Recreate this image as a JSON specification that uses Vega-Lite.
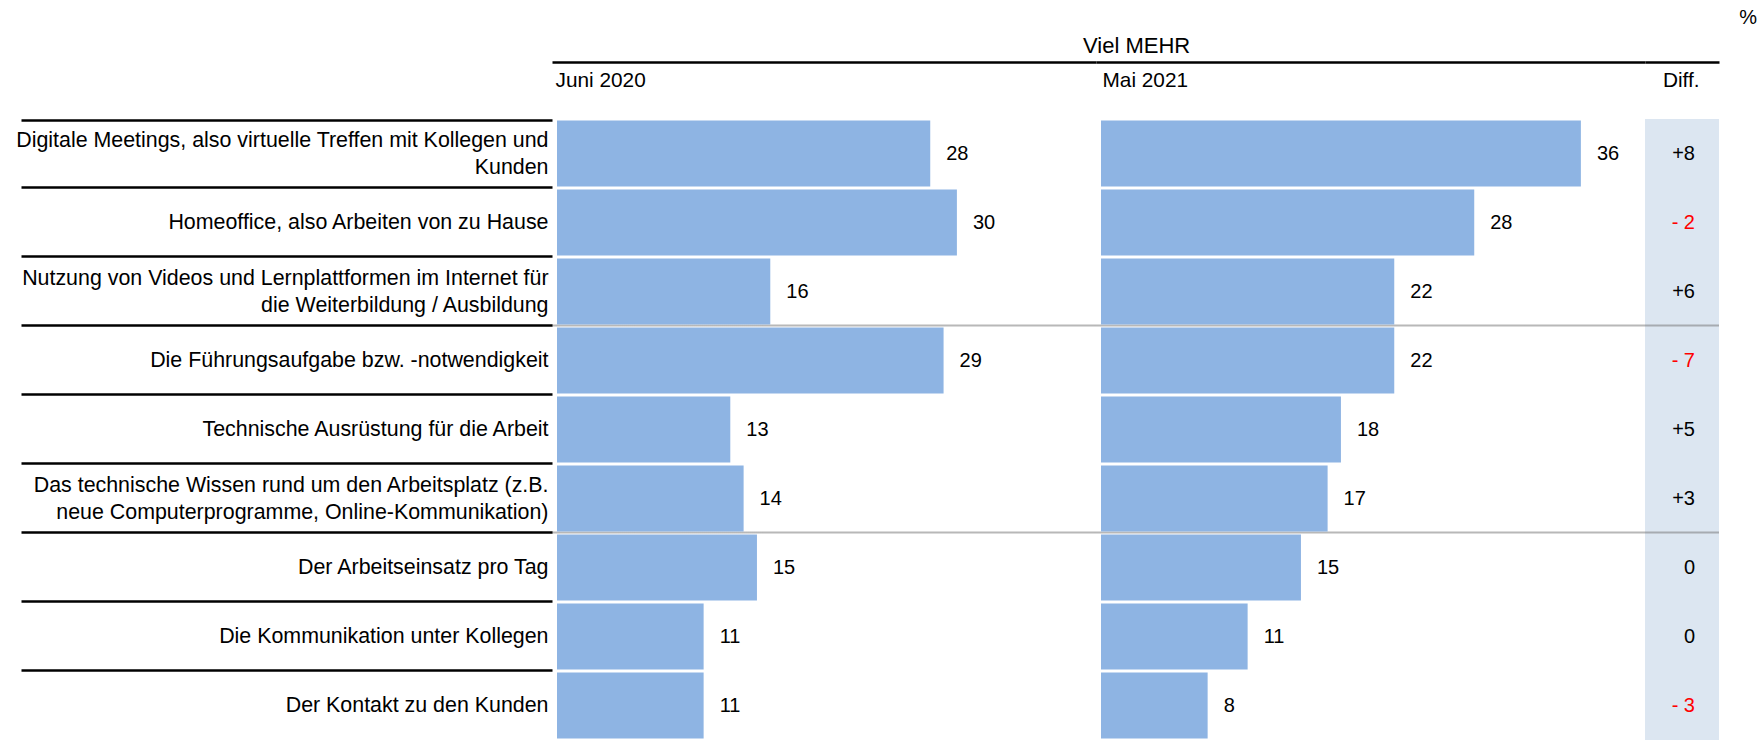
{
  "$schema": "https://vega.github.io/schema/vega-lite/v6.json",
  "padding": {"left": 15, "top": 8, "right": 0, "bottom": 0},
  "config": {
    "view": {"stroke": null},
    "font": "Liberation Sans",
    "title": {"fontWeight": "normal", "color": "black"},
    "axis": {"titleFontWeight": "normal", "titleColor": "black", "titleFontSize": 20.8, "labelColor": "black"}
  },
  "data": {
    "values": [
      {"label": "Digitale Meetings, also virtuelle Treffen mit Kollegen und|Kunden", "juni": 28, "mai": 36, "diff": 8, "diffLabel": "+8"},
      {"label": "Homeoffice, also Arbeiten von zu Hause", "juni": 30, "mai": 28, "diff": -2, "diffLabel": "- 2"},
      {"label": "Nutzung von Videos und Lernplattformen im Internet für|die Weiterbildung / Ausbildung", "juni": 16, "mai": 22, "diff": 6, "diffLabel": "+6"},
      {"label": "Die Führungsaufgabe bzw. -notwendigkeit", "juni": 29, "mai": 22, "diff": -7, "diffLabel": "- 7"},
      {"label": "Technische Ausrüstung für die Arbeit", "juni": 13, "mai": 18, "diff": 5, "diffLabel": "+5"},
      {"label": "Das technische Wissen rund um den Arbeitsplatz (z.B.|neue Computerprogramme, Online-Kommunikation)", "juni": 14, "mai": 17, "diff": 3, "diffLabel": "+3"},
      {"label": "Der Arbeitseinsatz pro Tag", "juni": 15, "mai": 15, "diff": 0, "diffLabel": "0"},
      {"label": "Die Kommunikation unter Kollegen", "juni": 11, "mai": 11, "diff": 0, "diffLabel": "0"},
      {"label": "Der Kontakt zu den Kunden", "juni": 11, "mai": 8, "diff": -3, "diffLabel": "- 3"}
    ]
  },
  "spacing": 0,
  "bounds": "flush",
  "resolve": {"scale": {"x": "independent", "y": "shared"}, "axis": {"x": "independent", "y": "independent"}},
  "hconcat": [
    {
      "width": 544,
      "height": 621,
      "layer": [
        {
          "mark": {"type": "bar", "color": "#8EB4E3"},
          "encoding": {
            "y": {
              "field": "label", "type": "nominal", "sort": null,
              "scale": {"paddingInner": 0.04, "paddingOuter": 0.02},
              "axis": {
                "title": null, "domain": false,
                "labelExpr": "split(datum.label, '|')",
                "labelAlign": "right", "labelFontSize": 21.4, "labelLineHeight": 27,
                "labelBaseline": {"condition": {"test": "isString(datum.value) && test(/[|]/, datum.value)", "value": "line-bottom"}, "value": "middle"},
                "labelPadding": -527, "labelLimit": 800, "labelOverlap": false,
                "ticks": true, "tickBand": "extent", "tickSize": 531, "tickWidth": 2.5, "tickColor": "black",
                "tickOpacity": {"condition": {"test": "datum.value == 'Der Kontakt zu den Kunden'", "value": 0}, "value": 1},
                "grid": true, "gridColor": "#707070", "gridWidth": 2, "gridDash": [1, 1],
                "gridOpacity": {"condition": {"test": "datum.value == 'Nutzung von Videos und Lernplattformen im Internet für|die Weiterbildung / Ausbildung' || datum.value == 'Das technische Wissen rund um den Arbeitsplatz (z.B.|neue Computerprogramme, Online-Kommunikation)'", "value": 1}, "value": 0}
              }
            },
            "x": {
              "field": "juni", "type": "quantitative",
              "scale": {"domain": [-0.375, 40.435], "nice": false, "zero": false},
              "axis": {
                "orient": "top", "offset": 57, "labels": false, "ticks": false, "grid": false,
                "domain": true, "domainColor": "black", "domainWidth": 2.5,
                "title": "Juni 2020", "titleX": 3, "titleY": 24, "titleAlign": "left", "titleBaseline": "alphabetic"
              }
            }
          }
        },
        {
          "mark": {"type": "text", "align": "left", "baseline": "middle", "dx": 16, "fontSize": 20, "color": "black"},
          "encoding": {
            "y": {"field": "label", "type": "nominal", "sort": null},
            "x": {"field": "juni", "type": "quantitative"},
            "text": {"field": "juni", "type": "quantitative"}
          }
        }
      ]
    },
    {
      "width": 549,
      "height": 621,
      "title": {"text": "Viel MEHR", "anchor": "start", "frame": "group", "dx": -13, "fontSize": 22, "baseline": "alphabetic", "offset": -13},
      "layer": [
        {
          "mark": {"type": "bar", "color": "#8EB4E3"},
          "encoding": {
            "y": {
              "field": "label", "type": "nominal", "sort": null,
              "scale": {"paddingInner": 0.04, "paddingOuter": 0.02},
              "axis": {
                "title": null, "domain": false, "labels": false, "ticks": false, "tickBand": "extent",
                "grid": true, "gridColor": "#707070", "gridWidth": 2, "gridDash": [1, 1],
                "gridOpacity": {"condition": {"test": "datum.value == 'Nutzung von Videos und Lernplattformen im Internet für|die Weiterbildung / Ausbildung' || datum.value == 'Das technische Wissen rund um den Arbeitsplatz (z.B.|neue Computerprogramme, Online-Kommunikation)'", "value": 1}, "value": 0}
              }
            },
            "x": {
              "field": "mai", "type": "quantitative",
              "scale": {"domain": [-0.375, 40.81], "nice": false, "zero": false},
              "axis": {
                "orient": "top", "offset": 57, "labels": false, "ticks": false, "grid": false,
                "domain": true, "domainColor": "black", "domainWidth": 2.5,
                "title": "Mai 2021", "titleX": 6, "titleY": 24, "titleAlign": "left", "titleBaseline": "alphabetic"
              }
            }
          }
        },
        {
          "mark": {"type": "text", "align": "left", "baseline": "middle", "dx": 16, "fontSize": 20, "color": "black"},
          "encoding": {
            "y": {"field": "label", "type": "nominal", "sort": null},
            "x": {"field": "mai", "type": "quantitative"},
            "text": {"field": "mai", "type": "quantitative"}
          }
        }
      ]
    },
    {
      "width": 74,
      "height": 621,
      "view": {"fill": "#DCE6F1"},
      "title": {"text": "%", "anchor": "end", "frame": "group", "dx": 38, "offset": 18, "fontSize": 20, "baseline": "alphabetic"},
      "mark": {"type": "text", "align": "right", "baseline": "middle", "fontSize": 20},
      "encoding": {
        "y": {
          "field": "label", "type": "nominal", "sort": null,
          "scale": {"paddingInner": 0.04, "paddingOuter": 0.02},
          "axis": {
            "title": null, "domain": false, "labels": false, "ticks": false, "tickBand": "extent",
            "grid": true, "gridColor": "#707070", "gridWidth": 2, "gridDash": [1, 1],
            "gridOpacity": {"condition": {"test": "datum.value == 'Nutzung von Videos und Lernplattformen im Internet für|die Weiterbildung / Ausbildung' || datum.value == 'Das technische Wissen rund um den Arbeitsplatz (z.B.|neue Computerprogramme, Online-Kommunikation)'", "value": 1}, "value": 0}
          }
        },
        "x": {
          "datum": 1, "type": "quantitative",
          "scale": {"domain": [0, 1.48], "nice": false, "zero": false},
          "axis": {
            "orient": "top", "offset": 57, "labels": false, "ticks": false, "grid": false,
            "domain": true, "domainColor": "black", "domainWidth": 2.5,
            "title": "Diff.", "titleX": 54, "titleY": 24, "titleAlign": "right", "titleBaseline": "alphabetic"
          }
        },
        "text": {"field": "diffLabel", "type": "nominal"},
        "color": {"condition": {"test": "datum.diff < 0", "value": "#FF0000"}, "value": "black"}
      }
    }
  ]
}
